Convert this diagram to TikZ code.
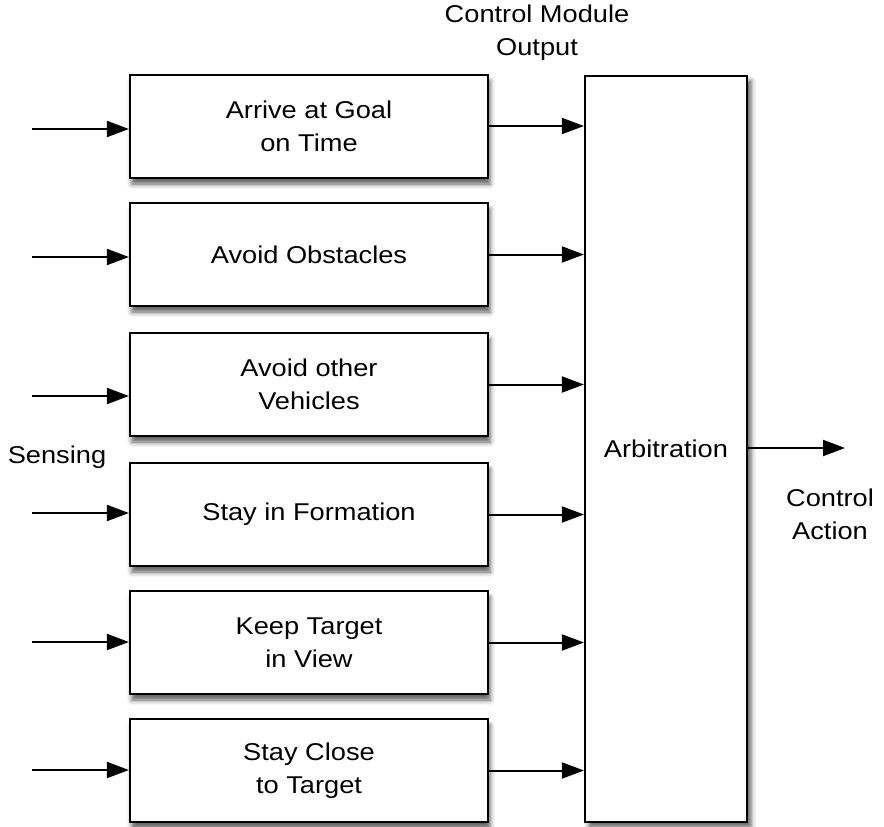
\documentclass[tikz,border=0pt]{standalone}
\usepackage{fontspec}
\setmainfont[FakeStretch=1.12]{Liberation Sans}
\usetikzlibrary{arrows.meta,shadows.blur}
\begin{document}
\begin{tikzpicture}[x=1pt,y=-1pt,
  txt/.style={font=\fontsize{24.3}{33}\selectfont, align=center},
  box/.style={txt, draw=black, line width=2.2pt, fill=white, inner sep=0pt,
    minimum width=358pt, minimum height=103pt,
    blur shadow={shadow xshift=2pt, shadow yshift=-6pt, shadow blur radius=5pt, shadow opacity=65}},
  arbbox/.style={txt, draw=black, line width=2.2pt, fill=white, inner sep=0pt,
    minimum width=162pt, minimum height=746pt,
    blur shadow={shadow xshift=4pt, shadow yshift=-5pt, shadow blur radius=5pt, shadow opacity=65}},
  arr/.style={line width=2pt, -{Triangle[length=22pt,width=16pt]}}]
\useasboundingbox (0,0) rectangle (884,827);

\node[arbbox] (arb) at (666,449) {Arbitration};

\node[box] (b1) at (309,126.5) {Arrive at Goal\\on Time};
\node[box] (b2) at (309,254.5) {Avoid Obstacles};
\node[box] (b3) at (309,384.5) {Avoid other\\Vehicles};
\node[box] (b4) at (309,514.5) {Stay in Formation};
\node[box] (b5) at (309,642.5) {Keep Target\\in View};
\node[box] (b6) at (309,770.5) {Stay Close\\to Target};

\node[txt] (cmo) at (537,33) {Control Module\\Output};
\node[txt] (sens) at (57,457) {Sensing};
\node[txt] (cact) at (830,514) {Control\\Action};

\coordinate (i1) at (32,129);
\coordinate (i2) at (32,257);
\coordinate (i3) at (32,396);
\coordinate (i4) at (32,513);
\coordinate (i5) at (32,642);
\coordinate (i6) at (32,770);
\foreach \k in {1,2,3,4,5,6}{
  \draw[arr] (i\k) -- (i\k -| b\k.west);
}

\draw[arr] (b1.east |- 0,126) -- (arb.west |- 0,126);
\draw[arr] (b2.east) -- (b2.east -| arb.west);
\draw[arr] (b3.east) -- (b3.east -| arb.west);
\draw[arr] (b4.east) -- (b4.east -| arb.west);
\draw[arr] (b5.east) -- (b5.east -| arb.west);
\draw[arr] (b6.east) -- (b6.east -| arb.west);

\coordinate (out) at (845,448);
\draw[arr] (arb.east |- out) -- (out);
\end{tikzpicture}
\end{document}
